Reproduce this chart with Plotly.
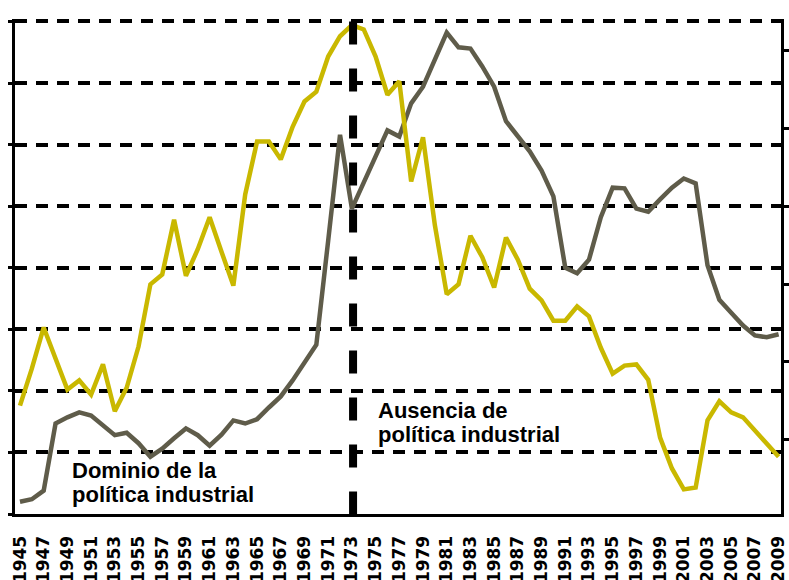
import plotly.graph_objects as go

years = list(range(1945, 2010))

gray_values = [0.20, 0.24, 0.38, 1.47, 1.57, 1.65, 1.60, 1.44, 1.28, 1.32,
               1.15, 0.93, 1.06, 1.23, 1.39, 1.28, 1.11, 1.29, 1.52, 1.47,
               1.54, 1.73, 1.91, 2.17, 2.46, 2.75, 4.44, 6.16, 4.96, 5.38,
               5.81, 6.23, 6.13, 6.67, 6.94, 7.37, 7.82, 7.58, 7.56, 7.27,
               6.94, 6.38, 6.13, 5.89, 5.58, 5.16, 4.00, 3.91, 4.13, 4.82,
               5.30, 5.29, 4.96, 4.91, 5.11, 5.30, 5.45, 5.37, 4.04, 3.48,
               3.27, 3.06, 2.90, 2.87, 2.92]

yellow_values = [1.76, 2.36, 3.03, 2.54, 2.02, 2.17, 1.94, 2.43, 1.67, 2.05,
                 2.72, 3.73, 3.89, 4.78, 3.87, 4.30, 4.82, 4.26, 3.71, 5.19,
                 6.05, 6.05, 5.76, 6.29, 6.70, 6.86, 7.43, 7.76, 7.94, 7.87,
                 7.43, 6.81, 7.03, 5.40, 6.12, 4.69, 3.57, 3.73, 4.52, 4.17,
                 3.68, 4.49, 4.13, 3.66, 3.47, 3.14, 3.14, 3.37, 3.21, 2.70,
                 2.28, 2.41, 2.43, 2.18, 1.24, 0.74, 0.40, 0.43, 1.52, 1.83,
                 1.65, 1.57, 1.36, 1.13, 0.93]

tick_years = list(range(1945, 2010, 2))
tick_labels = [str(y) for y in tick_years]

divider_year = 1973.1
label_left = ["Dominio de la", "política industrial"]
label_right = ["Ausencia de", "política industrial"]

GRAY = "#5f5c4a"
YELLOW = "#c9b800"

fig = go.Figure()
fig.add_trace(go.Scatter(x=years, y=gray_values, mode="lines",
                         line=dict(color=GRAY, width=4.5), showlegend=False,
                         hoverinfo="skip"))
fig.add_trace(go.Scatter(x=years, y=yellow_values, mode="lines",
                         line=dict(color=YELLOW, width=4.5), showlegend=False,
                         hoverinfo="skip"))
# empty trace to activate the right-hand axis
fig.add_trace(go.Scatter(x=[], y=[], yaxis="y2", showlegend=False))

fig.add_shape(type="line", xref="x", yref="y", x0=divider_year, x1=divider_year,
              y0=8.0, y1=0.0, layer="above",
              line=dict(color="black", width=8, dash="23px,24px"))

tfont = dict(family="Liberation Sans", size=22, color="black", weight="bold")
for txt, yv in zip(label_left, [0.70, 0.31]):
    fig.add_annotation(x=1949.3, y=yv, xref="x", yref="y", text=txt,
                       showarrow=False, xanchor="left", yanchor="middle",
                       font=tfont, borderpad=0)
for txt, yv in zip(label_right, [1.68, 1.29]):
    fig.add_annotation(x=1975.1, y=yv, xref="x", yref="y", text=txt,
                       showarrow=False, xanchor="left", yanchor="middle",
                       font=tfont, borderpad=0)

fig.update_layout(
    width=789, height=580,
    margin=dict(l=15, r=8, t=19, b=66, pad=0, autoexpand=False),
    paper_bgcolor="white", plot_bgcolor="white",
    xaxis=dict(range=[1944.58, 2009.2], tickmode="array",
               tickvals=tick_years, ticktext=tick_labels, tickangle=-90,
               showgrid=False, zeroline=False, showline=True, automargin=False,
               linecolor="black", linewidth=3, ticks="",
               ticklabelstandoff=12,
               tickfont=dict(family="DejaVu Sans", size=17, color="black",
                             weight="bold")),
    yaxis=dict(range=[0, 8.04], dtick=1, tick0=0, showticklabels=False,
               showgrid=True, gridcolor="black", gridwidth=4, automargin=False,
               griddash="12px,9px", zeroline=False, showline=True,
               linecolor="black", linewidth=3, ticks="outside", ticklen=4,
               tickwidth=3, tickcolor="black"),
    yaxis2=dict(overlaying="y", side="right", range=[0.05, 6.40], dtick=1,
                tick0=0, showticklabels=False, showgrid=False, zeroline=False,
                showline=True, linecolor="black", linewidth=3, automargin=False,
                ticks="outside", ticklen=7, tickwidth=3, tickcolor="black"),
)

fig.write_html(
    "out.html",
    config={"displayModeBar": False},
    post_script="document.body.style.margin='0';document.body.style.overflow='hidden';",
)
